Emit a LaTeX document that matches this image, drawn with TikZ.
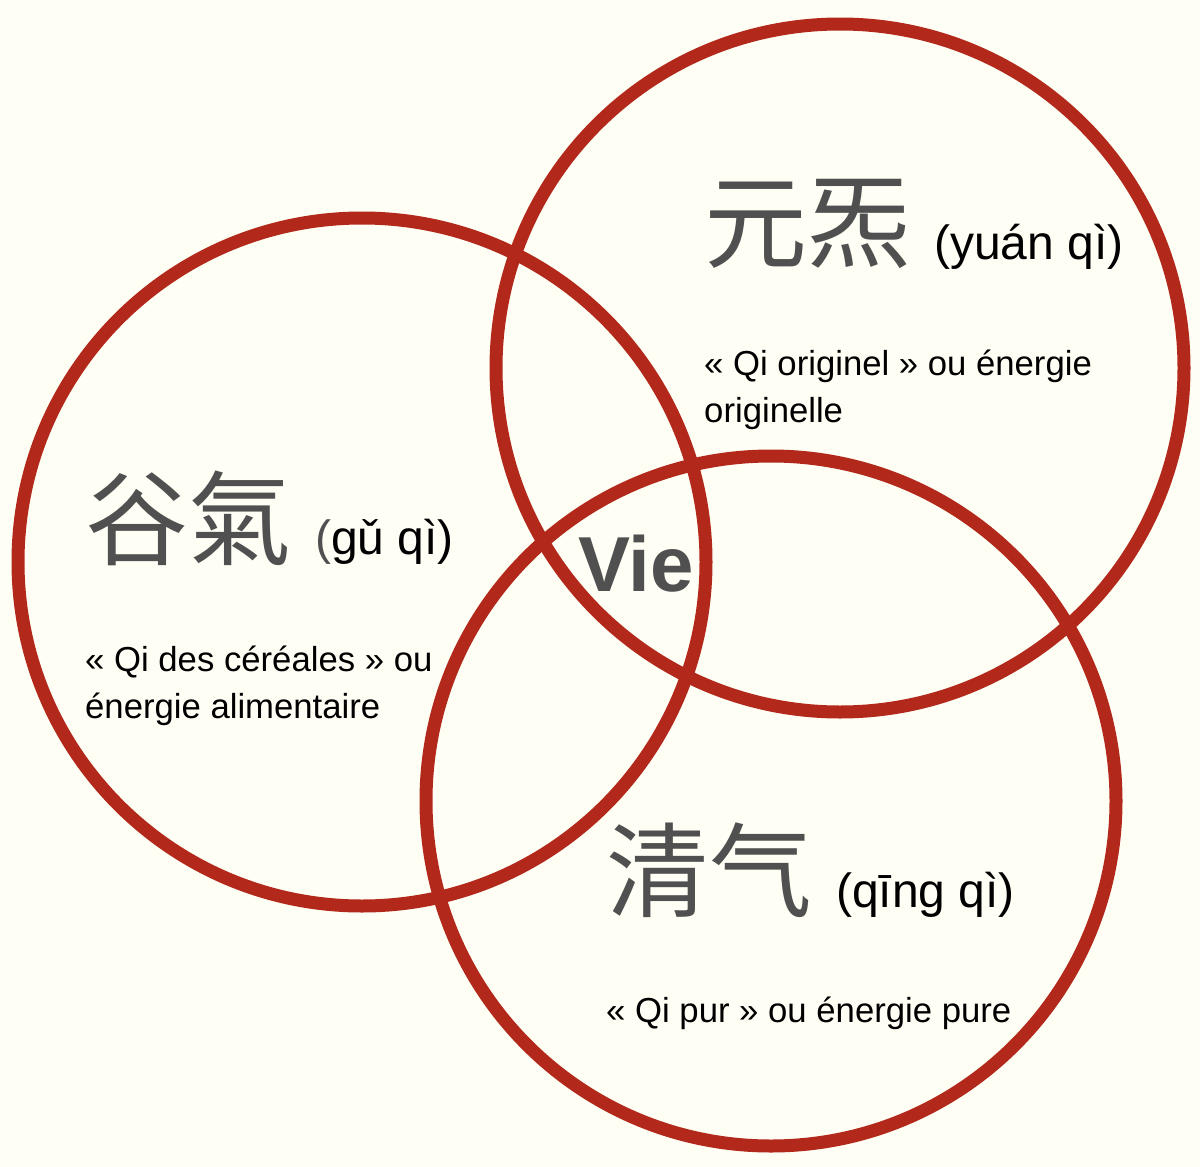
\documentclass[tikz,border=0pt]{standalone}
\usepackage{fontspec}
\setmainfont{Liberation Sans}
\newfontfamily\cjk{Noto Sans CJK SC}
\definecolor{qired}{RGB}{178,40,26}
\definecolor{qigrey}{RGB}{80,80,80}
\definecolor{qibg}{RGB}{255,254,245}

\begin{document}
\begin{tikzpicture}[x=1pt,y=-1pt,
  qiring/.style={draw=qired,line width=13pt},
  hanzi/.style={anchor=base west,inner sep=0pt,text=qigrey,font=\cjk\fontsize{103}{103}\selectfont},
  pinyin/.style={anchor=base west,inner sep=0pt,font=\fontsize{48}{48}\selectfont},
  gloss/.style={anchor=base west,inner sep=0pt,align=left,font=\fontsize{34.7}{47}\selectfont}]
\fill[qibg] (0,0) rectangle (1200,1167);
\useasboundingbox (0,0) rectangle (1200,1167);

% the three circles
\coordinate (yuan) at (840,368);
\coordinate (gu) at (362,562);
\coordinate (qing) at (771,801);
\draw[qiring] (yuan) circle [radius=344pt];
\draw[qiring] (gu) circle [radius=344pt];
\draw[qiring] (qing) circle [radius=345pt];

% yuan qi
\node[hanzi] (yuanzi) at (704,260) {元炁};
\node[pinyin] (yuanpy) at (934,259) {(yuán qì)};
\node[gloss] (yuantx) at (704,422) {« Qi originel » ou énergie\\originelle};

% gu qi
\node[hanzi] (guzi) at (85,557) {谷氣};
\node[pinyin] (gupy) at (315,554) {\textcolor{qigrey}{(}gǔ qì)};
\node[gloss] (gutx) at (85,718) {« Qi des céréales » ou\\énergie alimentaire};

% qing qi
\node[hanzi] (qingzi) at (606,909) {清气};
\node[pinyin] (qingpy) at (836,907) {(qīng qì)};
\node[gloss] (qingtx) at (606,1022) {« Qi pur » ou énergie pure};

% centre
\node[anchor=base west,inner sep=0pt,text=qigrey,font=\bfseries\fontsize{78}{78}\selectfont] (vie) at (578,591) {Vie};
\end{tikzpicture}
\end{document}
